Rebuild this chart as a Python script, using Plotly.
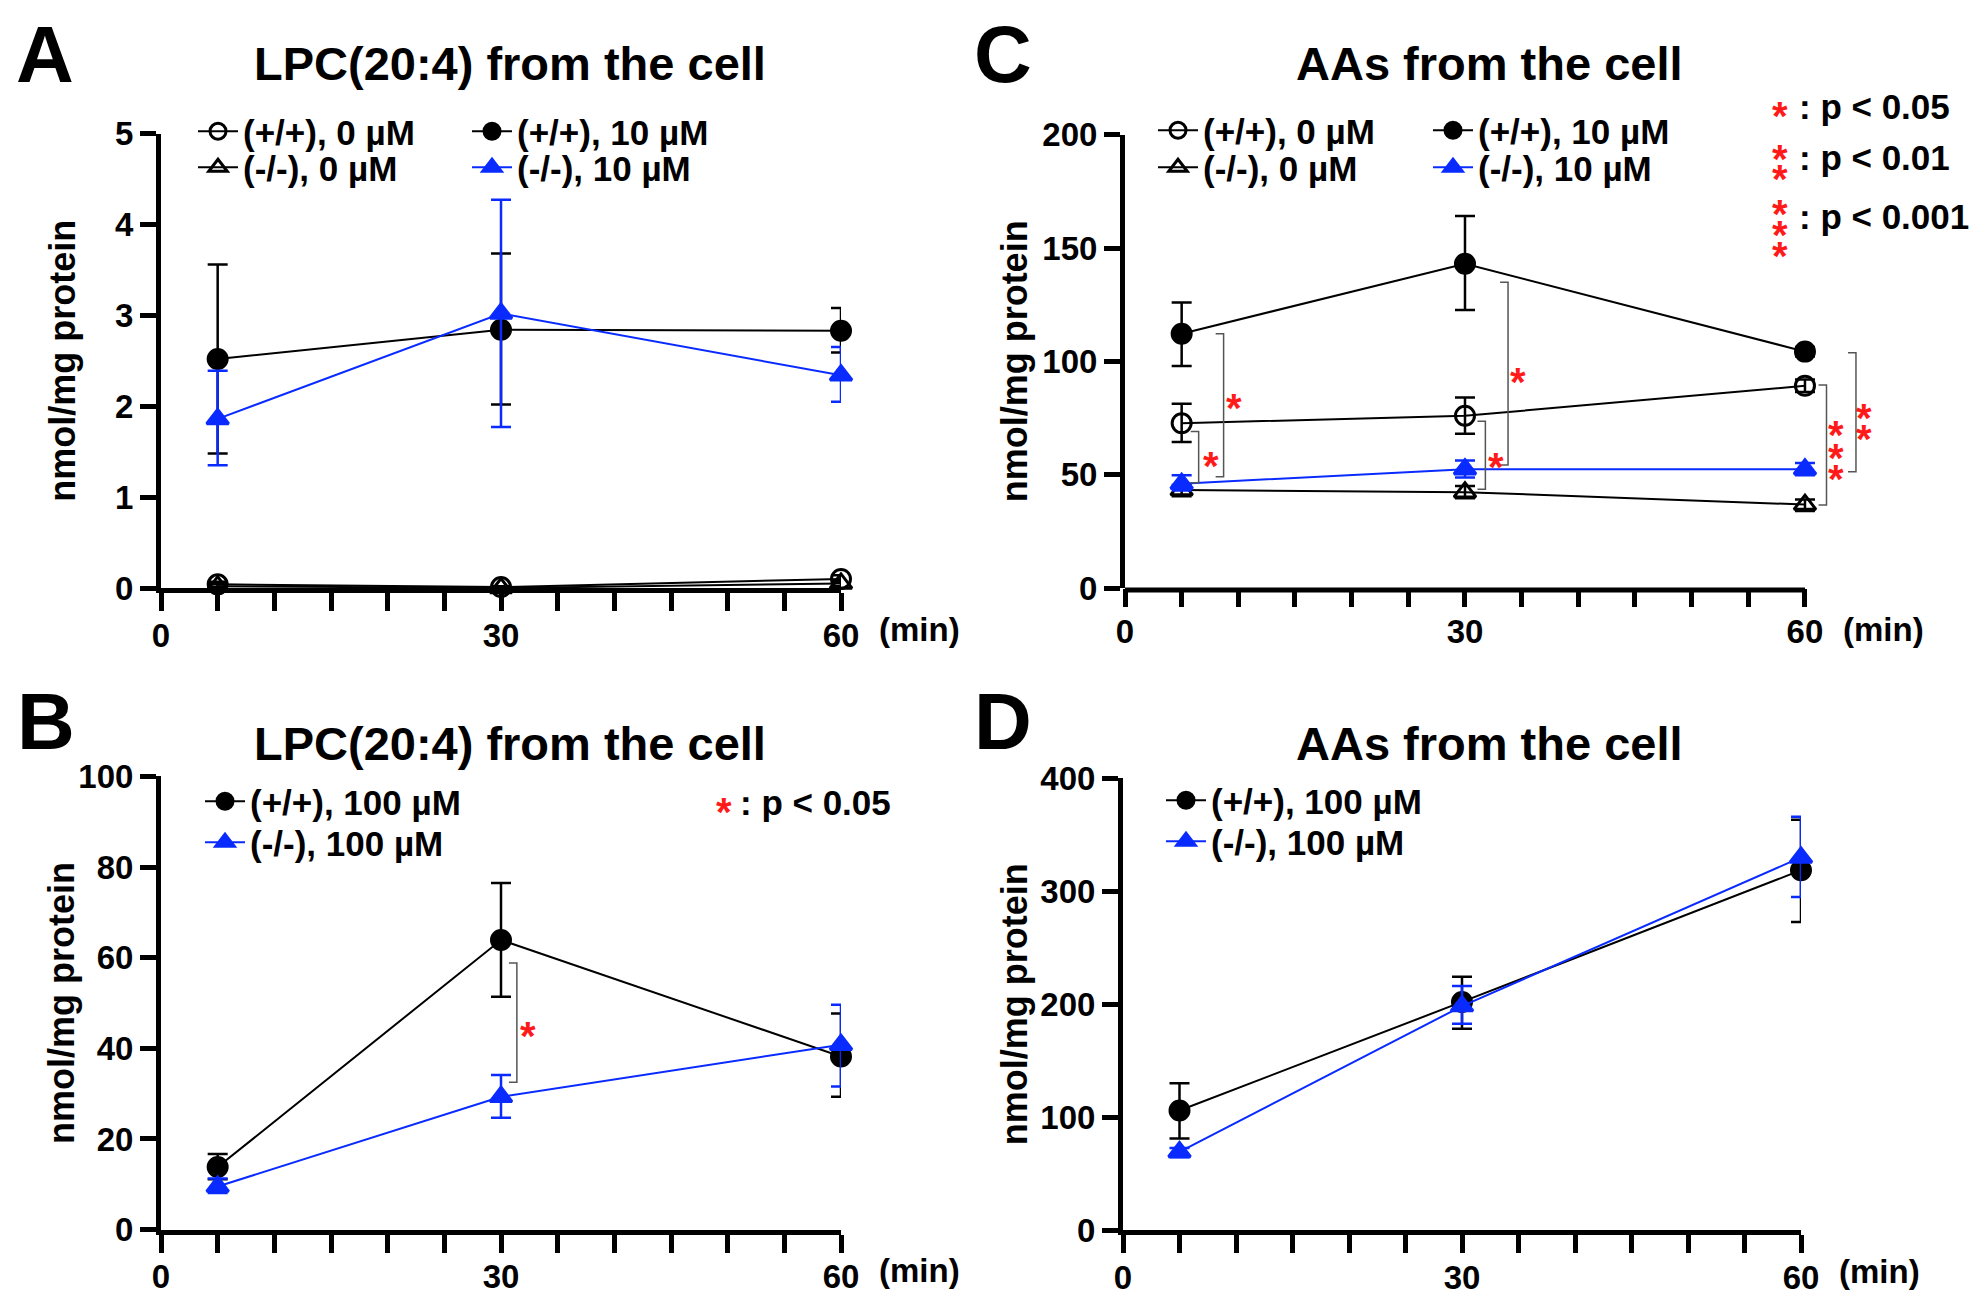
import plotly.graph_objects as go

W, H = 1978, 1309
OFF = 8  # the page body margin shifts the plot by this many pixels
FONT = "Liberation Sans, Arial, Helvetica, sans-serif"
BLUE = "#0a2bff"
RED = "#ff1a1a"

times = [5, 30, 60]
x_tick_vals = [0, 5, 10, 15, 20, 25, 30, 35, 40, 45, 50, 55, 60]
x_tick_text = ["0", "", "", "", "", "", "30", "", "", "", "", "", "60"]

# A: LPC(20:4) from the cell, 0 / 10 uM  (mean, upper end, lower end of error bar)
a_wt0 = [0.04, 0.01, 0.10]
a_wt0_hi = [0.07, 0.02, 0.14]
a_wt0_lo = [0.01, 0.00, 0.06]
a_ko0 = [0.02, 0.00, 0.05]
a_ko0_hi = [0.04, 0.01, 0.08]
a_ko0_lo = [0.00, 0.00, 0.02]
a_wt10 = [2.52, 2.84, 2.83]
a_wt10_hi = [3.56, 3.68, 3.08]
a_wt10_lo = [1.48, 2.02, 2.59]
a_ko10 = [1.86, 3.02, 2.34]
a_ko10_hi = [2.39, 4.27, 2.65]
a_ko10_lo = [1.35, 1.77, 2.05]

# B: LPC(20:4) from the cell, 100 uM
b_wt100 = [13.8, 63.9, 38.2]
b_wt100_hi = [16.7, 76.5, 47.7]
b_wt100_lo = [11.1, 51.4, 29.3]
b_ko100 = [9.5, 29.3, 40.8]
b_ko100_hi = [11.3, 34.1, 49.6]
b_ko100_lo = [8.1, 24.7, 31.6]

# C: AAs from the cell, 0 / 10 uM
c_wt0 = [72.7, 76.0, 89.2]
c_wt0_hi = [81.3, 84.1, 92.0]
c_wt0_lo = [64.4, 68.1, 86.5]
c_ko0 = [43.2, 42.3, 36.8]
c_ko0_hi = [45.4, 45.0, 39.0]
c_ko0_lo = [40.5, 39.6, 34.0]
c_wt10 = [112.2, 143.1, 104.3]
c_wt10_hi = [126.0, 164.1, 106.3]
c_wt10_lo = [97.9, 122.7, 102.1]
c_ko10 = [46.0, 52.4, 52.4]
c_ko10_hi = [49.7, 56.3, 55.2]
c_ko10_lo = [43.0, 48.8, 49.7]

# D: AAs from the cell, 100 uM
d_wt100 = [106.0, 202.0, 318.4]
d_wt100_hi = [130.0, 224.2, 363.0]
d_wt100_lo = [81.3, 178.4, 272.6]
d_ko100 = [69.4, 198.3, 329.8]
d_ko100_hi = [72.8, 216.0, 365.7]
d_ko100_lo = [64.6, 182.8, 294.7]

# significance brackets (x, top, bottom) and stars (x, y)
b_bracket_x = [31.4]
b_bracket_hi = [58.8]
b_bracket_lo = [32.5]
b_star_x = [32.4]
b_star_y = [45.4]

c_bracket_x = [6.5, 8.7, 31.8, 33.8, 61.9, 64.5]
c_bracket_hi = [69.0, 112.2, 73.6, 134.9, 89.6, 103.8]
c_bracket_lo = [46.4, 49.1, 43.6, 54.3, 36.6, 51.3]
c_star_x = [7.6, 9.6, 32.7, 34.65, 62.7, 62.7, 62.7, 65.2, 65.2]
c_star_y = [59.2, 84.6, 58.5, 96.0, 72.9, 62.7, 53.4, 80.3, 71.0]

p_labels = [": p < 0.05", ": p < 0.01", ": p < 0.001"]


def px(x):
    return (x - OFF) / W


def py(y):
    return 1 - (y - OFF) / H


def series(name, y, hi, lo, color, symbol, xa, ya, legend):
    return go.Scatter(
        x=times, y=y, name=name, mode="lines+markers",
        xaxis=xa, yaxis=ya, legend=legend, cliponaxis=False,
        line=dict(color=color, width=2),
        marker=dict(symbol=symbol, size=19, color=color, line=dict(color=color, width=3)),
        error_y=dict(type="data", symmetric=False,
                     array=[h - v for h, v in zip(hi, y)],
                     arrayminus=[v - l for v, l in zip(y, lo)],
                     color=color, thickness=2.5, width=10),
    )


fig = go.Figure()

fig.add_trace(series("(+/+), 0 µM", a_wt0, a_wt0_hi, a_wt0_lo, "black", "circle-open", "x", "y", "legend"))
fig.add_trace(series("(-/-), 0 µM", a_ko0, a_ko0_hi, a_ko0_lo, "black", "triangle-up-open", "x", "y", "legend2"))
fig.add_trace(series("(+/+), 10 µM", a_wt10, a_wt10_hi, a_wt10_lo, "black", "circle", "x", "y", "legend3"))
fig.add_trace(series("(-/-), 10 µM", a_ko10, a_ko10_hi, a_ko10_lo, BLUE, "triangle-up", "x", "y", "legend4"))

fig.add_trace(series("(+/+), 100 µM", b_wt100, b_wt100_hi, b_wt100_lo, "black", "circle", "x2", "y2", "legend5"))
fig.add_trace(series("(-/-), 100 µM", b_ko100, b_ko100_hi, b_ko100_lo, BLUE, "triangle-up", "x2", "y2", "legend6"))

fig.add_trace(series("(+/+), 0 µM", c_wt0, c_wt0_hi, c_wt0_lo, "black", "circle-open", "x3", "y3", "legend7"))
fig.add_trace(series("(-/-), 0 µM", c_ko0, c_ko0_hi, c_ko0_lo, "black", "triangle-up-open", "x3", "y3", "legend8"))
fig.add_trace(series("(+/+), 10 µM", c_wt10, c_wt10_hi, c_wt10_lo, "black", "circle", "x3", "y3", "legend9"))
fig.add_trace(series("(-/-), 10 µM", c_ko10, c_ko10_hi, c_ko10_lo, BLUE, "triangle-up", "x3", "y3", "legend10"))

fig.add_trace(series("(+/+), 100 µM", d_wt100, d_wt100_hi, d_wt100_lo, "black", "circle", "x4", "y4", "legend11"))
fig.add_trace(series("(-/-), 100 µM", d_ko100, d_ko100_hi, d_ko100_lo, BLUE, "triangle-up", "x4", "y4", "legend12"))

tickfont = dict(family=FONT, size=33, color="black", weight="bold")


def xaxis(domain, anchor, rng, showline=True):
    return dict(domain=domain, anchor=anchor, range=rng, tickmode="array",
                tickvals=x_tick_vals, ticktext=x_tick_text, ticks="outside",
                ticklen=18, tickwidth=5, tickcolor="black", showline=showline,
                linewidth=5, linecolor="black", showgrid=False, zeroline=False,
                tickfont=tickfont, ticklabelstandoff=-4, fixedrange=True, automargin=False)


def yaxis(domain, anchor, rng, dtick):
    return dict(domain=domain, anchor=anchor, range=rng, dtick=dtick, tick0=0,
                ticks="outside", ticklen=16, tickwidth=5, tickcolor="black",
                showline=True, linewidth=5, linecolor="black", showgrid=False,
                zeroline=False, tickfont=tickfont, fixedrange=True, automargin=False)


# one legend box per entry: (text start x, row centre y) in pixels
legend_rows = [(243, 132), (243, 168), (517, 132), (517, 168),
               (250, 802), (250, 843),
               (1203, 131), (1203, 168), (1478, 131), (1478, 168),
               (1211, 801), (1211, 842)]


def legend(text_x, row_y):
    return dict(x=px(text_x - 50), y=py(row_y - 30), xanchor="left", yanchor="top",
                bgcolor="rgba(0,0,0,0)", itemwidth=40, traceorder="normal",
                font=dict(family=FONT, size=35, color="black", weight="bold"))


ann = []
shapes = []


def text(x, y, s, size, xref="paper", yref="paper", xanchor="center", yanchor="middle", **kw):
    ann.append(dict(x=x, y=y, xref=xref, yref=yref, text=s, showarrow=False,
                    xanchor=xanchor, yanchor=yanchor,
                    font=dict(family=FONT, size=size, color=kw.pop("color", "black"), weight="bold"), **kw))


# panel letters (box tops) and titles
for letter, (lx, ly) in zip("ABCD", [(45, 8), (46, 675), (1003, 8), (1003, 675)]):
    text(px(lx), py(ly), letter, 80, yanchor="top")
for title, (tx, ty) in zip(["LPC(20:4) from the cell", "LPC(20:4) from the cell",
                            "AAs from the cell", "AAs from the cell"],
                           [(510, 64), (510, 743), (1489, 64), (1489, 743)]):
    text(px(tx), py(ty), title, 47)

# y-axis titles and "(min)" labels
for yname, xname, xl in [("y", "x", 63), ("y2", "x2", 61), ("y3", "x3", 1014), ("y4", "x4", 1014)]:
    text(px(xl), 0.5, "nmol/mg protein", 36, yref=yname + " domain", textangle=-90)
    text(60, 0, "(min)", 33, xref=xname, yref=yname + " domain", xanchor="left",
         yshift=-41, xshift=36)


# brackets and stars
def bracket(xs, his, los, xa, ya):
    for bx, hi, lo in zip(xs, his, los):
        shapes.append(dict(type="path", xref=xa, yref=ya,
                           path=f"M {bx - 0.7},{hi} L {bx},{hi} L {bx},{lo} L {bx - 0.7},{lo}",
                           line=dict(color="#555555", width=1.5)))


def stars(xs, ys, xa, ya):
    for sx, sy in zip(xs, ys):
        text(sx, sy, "*", 40, xref=xa, yref=ya, color=RED, yshift=-12)


bracket(b_bracket_x, b_bracket_hi, b_bracket_lo, "x2", "y2")
stars(b_star_x, b_star_y, "x2", "y2")
bracket(c_bracket_x, c_bracket_hi, c_bracket_lo, "x3", "y3")
stars(c_star_x, c_star_y, "x3", "y3")

# p-value keys
text(px(724), py(800), "*", 40, color=RED, yshift=-12)
text(px(738), py(802), p_labels[0], 35, xanchor="left")
text(px(1780), py(104), "*", 40, color=RED, yshift=-12)
text(px(1797), py(107), p_labels[0], 35, xanchor="left")
for sy in [147, 167]:
    text(px(1780), py(sy), "*", 40, color=RED, yshift=-12)
text(px(1797), py(158), p_labels[1], 35, xanchor="left")
for sy in [202, 223, 244]:
    text(px(1780), py(sy), "*", 40, color=RED, yshift=-12)
text(px(1797), py(216), p_labels[2], 35, xanchor="left")

# panel C x-axis line stops at 60 while the plot area continues for the brackets
shapes.append(dict(type="line", xref="x3", yref="y3 domain", x0=0, x1=60,
                   ysizemode="pixel", yanchor=0, y0=-2, y1=-2,
                   line=dict(color="black", width=5)))

layout_legends = {}
for i, (tx, ry) in enumerate(legend_rows):
    key = "legend" if i == 0 else f"legend{i + 1}"
    layout_legends[key] = legend(tx, ry)

fig.update_layout(
    width=W, height=H, margin=dict(l=0, r=0, t=0, b=0, pad=0, autoexpand=False),
    paper_bgcolor="white", plot_bgcolor="white", showlegend=True,
    font=dict(family=FONT, color="black"),
    xaxis=xaxis([px(161), px(841)], "y", [0, 60]),
    yaxis=yaxis([py(588), py(133.5)], "x", [0, 5], 1),
    xaxis2=xaxis([px(161), px(841)], "y2", [0, 60]),
    yaxis2=yaxis([py(1229.6), py(776.4)], "x2", [0, 100], 20),
    xaxis3=xaxis([px(1125), px(1884.3)], "y3", [0, 67], showline=False),
    yaxis3=yaxis([py(588), py(134.7)], "x3", [0, 200], 50),
    xaxis4=xaxis([px(1123), px(1801)], "y4", [0, 60]),
    yaxis4=yaxis([py(1230.4), py(778)], "x4", [0, 400], 100),
    annotations=ann,
    shapes=shapes,
    **layout_legends,
)

fig.write_html("out.html")
